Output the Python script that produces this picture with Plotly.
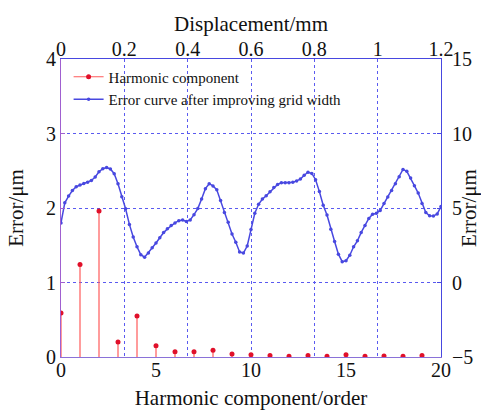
import plotly.graph_objects as go

# Harmonic spectrum (left / bottom axes)
harmonic_order = list(range(20))
harmonic_amp = [0.59, 1.24, 1.96, 0.20, 0.55, 0.15, 0.07, 0.07, 0.09, 0.04,
                0.03, 0.02, 0.01, 0.02, 0.01, 0.03, 0.01, 0.015, 0.01, 0.02]

# Error curve vs displacement (right / top axes), sampled every 0.012 mm
displacement_mm = [round(i * 0.012, 3) for i in range(101)]
error_um = [
    4.00, 5.35, 5.80, 6.17, 6.43, 6.54, 6.64, 6.72, 6.85, 7.08,
    7.43, 7.64, 7.72, 7.62, 7.30, 6.62, 5.75, 4.95, 3.90, 3.05,
    2.40, 1.87, 1.70, 1.98, 2.33, 2.65, 3.01, 3.35, 3.60, 3.82,
    4.00, 4.15, 4.19, 4.09, 4.20, 4.55, 4.96, 5.60, 6.30, 6.63,
    6.48, 6.22, 5.50, 4.70, 4.05, 3.25, 2.70, 2.05, 1.98, 2.45,
    3.55, 4.65, 5.25, 5.60, 5.82, 6.09, 6.37, 6.58, 6.70, 6.70,
    6.70, 6.73, 6.82, 6.94, 7.20, 7.40, 7.32, 6.90, 6.10, 5.18,
    4.53, 3.57, 2.75, 1.90, 1.40, 1.46, 1.83, 2.40, 2.80, 3.36,
    3.83, 4.30, 4.58, 4.64, 4.84, 5.30, 5.73, 6.18, 6.62, 7.10,
    7.59, 7.46, 7.02, 6.50, 6.00, 5.30, 4.70, 4.48, 4.46, 4.60,
    5.10,
]

FONT = "Liberation Serif"
RED_LINE = "#ff5a5a"
RED_DOT = "#e0102a"
BLUE = "#4848e0"
GRID = "#5a5af0"

fig = go.Figure()

# Stems: markers with one-sided error bars reaching down to zero
fig.add_trace(go.Scatter(
    x=harmonic_order, y=harmonic_amp,
    mode="markers",
    marker=dict(color=RED_DOT, size=5),
    error_y=dict(type="data", symmetric=False,
                 array=[0] * len(harmonic_amp), arrayminus=harmonic_amp,
                 color=RED_LINE, thickness=1.2, width=0),
    name="Harmonic component", showlegend=False,
    xaxis="x", yaxis="y",
))
# Legend entry for the stems (line + dot symbol)
fig.add_trace(go.Scatter(
    x=[None], y=[None], mode="lines+markers",
    line=dict(color=RED_LINE, width=1.2),
    marker=dict(color=RED_DOT, size=5),
    name="Harmonic component", xaxis="x", yaxis="y",
))

fig.add_trace(go.Scatter(
    x=displacement_mm, y=error_um,
    mode="lines+markers",
    line=dict(color=BLUE, width=1.5),
    marker=dict(color=BLUE, size=3.5),
    name="Error curve after improving grid width",
    xaxis="x2", yaxis="y2",
))

tick_font = dict(family=FONT, size=20, color="#111111")
title_font = dict(family=FONT, size=21, color="#111111")

fig.update_layout(
    width=481, height=412,
    margin=dict(l=61, r=40, t=59, b=55, autoexpand=False),
    paper_bgcolor="white", plot_bgcolor="white",
    font=dict(family=FONT, color="#111111"),
    showlegend=True,
    legend=dict(x=0.02, y=0.995, xanchor="left", yanchor="top",
                bgcolor="rgba(255,255,255,0)", borderwidth=0,
                font=dict(family=FONT, size=15, color="#111111"),
                itemwidth=30, tracegroupgap=0),
    xaxis=dict(
        range=[0, 20], tickvals=[0, 5, 10, 15, 20], showgrid=False,
        zeroline=False, showline=True, linecolor="#8a72d8", linewidth=1.2,
        ticks="", tickfont=tick_font, automargin=False, ticklabelstandoff=-5,
        title=dict(text="Harmonic component/order", font=title_font, standoff=10),
    ),
    yaxis=dict(
        range=[0, 4], tickvals=[0, 1, 2, 3, 4], showgrid=True,
        gridcolor=GRID, griddash="dot", gridwidth=1,
        zeroline=False, showline=True, linecolor="#a060d0", linewidth=1.2,
        ticks="inside", ticklen=4, tickcolor="#a060d0", tickfont=tick_font,
        automargin=False,
        title=dict(text="Error/μm", font=title_font, standoff=16),
    ),
    xaxis2=dict(
        overlaying="x", side="top", range=[0, 1.2],
        tickvals=[0, 0.2, 0.4, 0.6, 0.8, 1.0, 1.2],
        ticktext=["0", "0.2", "0.4", "0.6", "0.8", "1", "1.2"],
        showgrid=True, gridcolor=GRID, griddash="dot", gridwidth=1,
        zeroline=False, showline=True, linecolor=BLUE, linewidth=1.2,
        ticks="", tickfont=tick_font, automargin=False, ticklabelstandoff=-6,
        title=dict(text="Displacement/mm", font=title_font, standoff=0),
    ),
    yaxis2=dict(
        overlaying="y", side="right", range=[-5, 15],
        tickvals=[-5, 0, 5, 10, 15], showgrid=False,
        zeroline=False, showline=True, linecolor=BLUE, linewidth=1.2,
        ticks="inside", ticklen=4, tickcolor=BLUE, tickfont=tick_font,
        automargin=False, ticklabelstandoff=6,
        title=dict(text="Error/μm", font=title_font, standoff=2),
    ),
)

fig.write_html("out.html")
